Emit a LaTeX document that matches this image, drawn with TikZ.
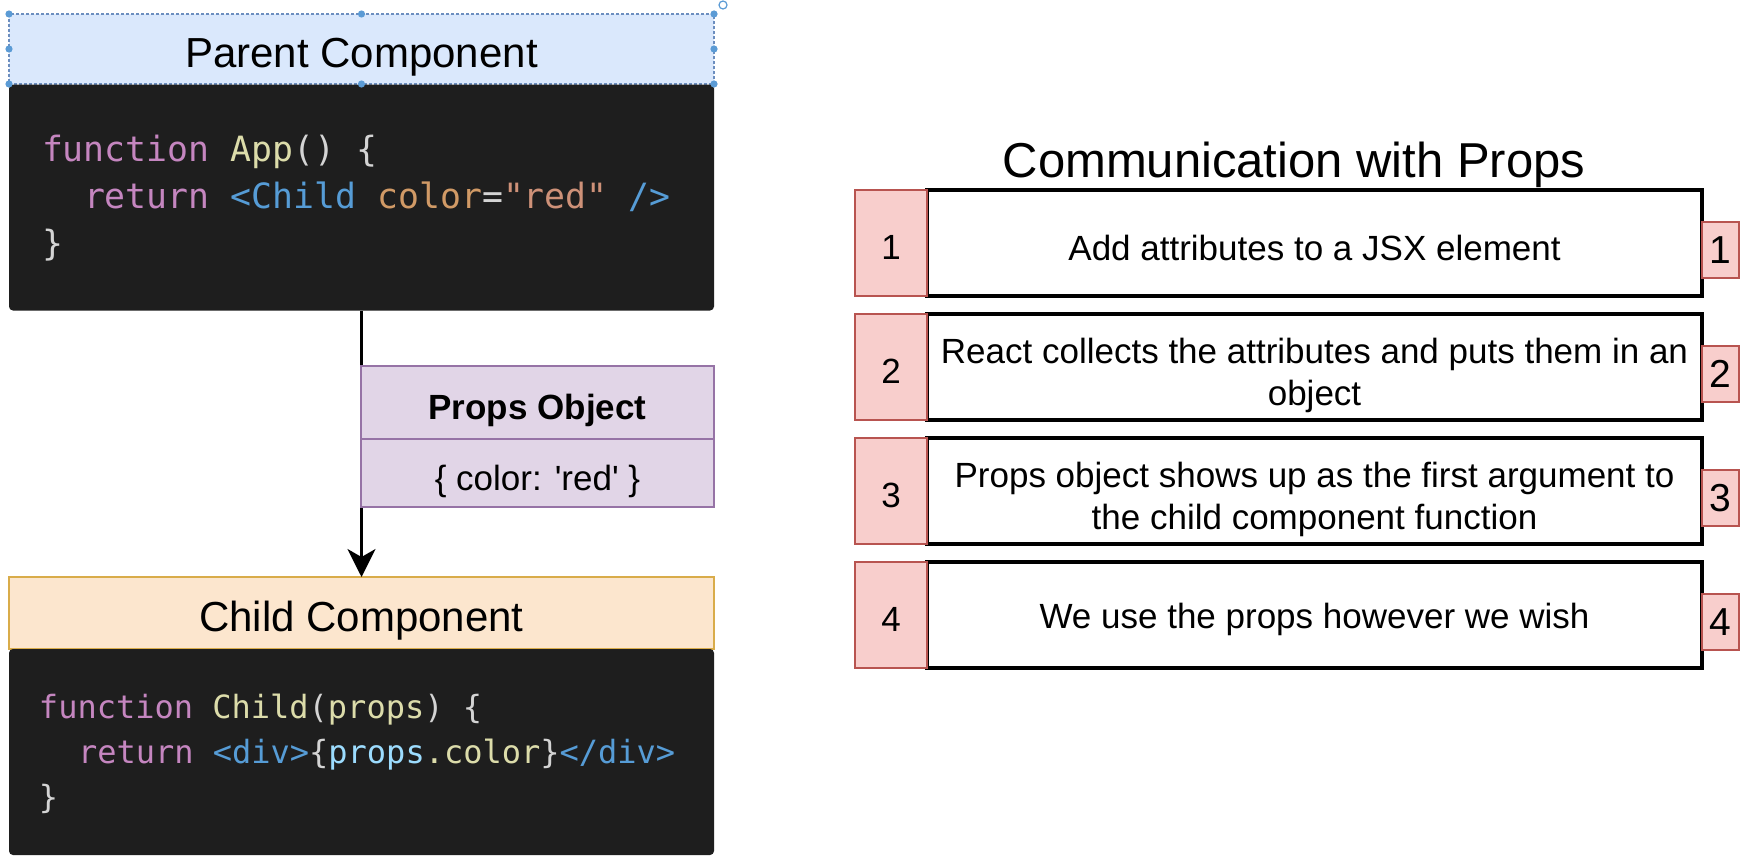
\documentclass[tikz,border=0pt]{standalone}
\usepackage{fontspec}
\setmainfont{Liberation Sans}
\setmonofont{DejaVu Sans Mono}
\usepackage{tikz}
\usetikzlibrary{arrows.meta,positioning}
\definecolor{CodeBg}{HTML}{1E1E1E}
\definecolor{KwPink}{HTML}{C586C0}
\definecolor{FnYellow}{HTML}{DCDCAA}
\definecolor{TagBlue}{HTML}{569CD6}
\definecolor{AttrTan}{HTML}{D19A66}
\definecolor{StrOrange}{HTML}{CE9178}
\definecolor{PunGray}{HTML}{D4D4D4}
\definecolor{VarBlue}{HTML}{9CDCFE}
\definecolor{ParentFill}{HTML}{DAE8FC}
\definecolor{ParentLine}{HTML}{6C8EBF}
\definecolor{HandleBlue}{HTML}{5B9BD5}
\definecolor{ChildFill}{HTML}{FCE6CE}
\definecolor{ChildLine}{HTML}{D9AC4A}
\definecolor{PropsFill}{HTML}{E1D5E7}
\definecolor{PropsLine}{HTML}{9673A6}
\definecolor{StepFill}{HTML}{F8CECC}
\definecolor{StepLine}{HTML}{B85450}
\newcommand{\cKw}[1]{\textcolor{KwPink}{#1}}
\newcommand{\cFn}[1]{\textcolor{FnYellow}{#1}}
\newcommand{\cTag}[1]{\textcolor{TagBlue}{#1}}
\newcommand{\cAttr}[1]{\textcolor{AttrTan}{#1}}
\newcommand{\cStr}[1]{\textcolor{StrOrange}{#1}}
\newcommand{\cPun}[1]{\textcolor{PunGray}{#1}}
\newcommand{\cVar}[1]{\textcolor{VarBlue}{#1}}

\begin{document}
\begin{tikzpicture}[x=0.5pt,y=-0.5pt,
    every node/.style={inner sep=0pt, outer sep=0pt},
    headbox/.style={minimum width=352.5pt, text height=18pt, text depth=0pt, font=\fontsize{21}{25}\selectfont},
    codebox/.style={fill=CodeBg, rounded corners=2pt, minimum width=352.5pt},
    codeline/.style={anchor=base west, font=\fontsize{17.4}{20}\selectfont\ttfamily},
    childline/.style={anchor=base west, font=\fontsize{16}{19}\selectfont\ttfamily},
    propsbox/.style={draw=PropsLine, fill=PropsFill, line width=1pt, minimum width=176.5pt, text height=17pt, text depth=0pt, font=\fontsize{17.5}{21}\selectfont},
    numbox/.style={draw=StepLine, fill=StepFill, line width=1pt, minimum width=36pt, minimum height=53pt, text height=16pt, text depth=0pt, font=\fontsize{17.5}{21}\selectfont},
    stepbox/.style={draw=black, fill=white, line width=1.6pt, minimum width=387.5pt, minimum height=53pt},
    steptext/.style={align=center, font=\fontsize{17.5}{21}\selectfont},
    tagbox/.style={draw=StepLine, fill=StepFill, line width=1pt, minimum width=18.5pt, minimum height=28pt, font=\fontsize{19.5}{22}\selectfont},
    arrowline/.style={-{Stealth[length=14pt, width=14pt, inset=4pt]}, line width=1.1pt}]
  \fill[white] (0,0) rectangle (1764,862);
  \useasboundingbox (0,0) rectangle (1764,862);

  \node[headbox, draw=ParentLine, fill=ParentFill, dash pattern=on 1.5pt off 1pt, line width=0.8pt, minimum height=35pt] (parentHead) at (361.5,49) {Parent Component};
  \node[codebox, minimum height=113pt] (parentCode) at (361.5,197.5) {};
  \node[codeline] (appL1) at (42,161) {\cKw{function} \cFn{App}\cPun{() \{}};
  \node[codeline] (appL2) at (84,208) {\cKw{return} \cTag{<Child} \cAttr{color}\cPun{=}\cStr{"red"} \cTag{/>}};
  \node[codeline] (appL3) at (42,255) {\cPun{\}}};
  \foreach \a in {north west,north,north east,east,south east,south,south west,west}
    \fill[HandleBlue] (parentHead.\a) circle (1.8pt);
  \draw[HandleBlue, line width=0.6pt] (723,5) circle (2pt);

  \node[headbox, draw=ChildLine, fill=ChildFill, line width=1pt, minimum height=36pt] (childHead) at (361.5,613) {Child Component};
  \node[codebox, minimum height=103pt] (childCode) at (361.5,752) {};
  \node[childline] (childL1) at (39,718) {\cKw{function} \cFn{Child}\cPun{(}\cFn{props}\cPun{) \{}};
  \node[childline] (childL2) at (78,763) {\cKw{return} \cTag{<div>}\cPun{\{}\cVar{props}\cFn{.color}\cPun{\}}\cTag{</div>}};
  \node[childline] (childL3) at (39,808) {\cPun{\}}};

  \draw[arrowline] (parentCode.south) -- (childHead.north);

  \node[propsbox, minimum height=36.5pt, font=\fontsize{17.5}{21}\selectfont\bfseries] (propsTitle) at (537.5,402.5) {Props Object};
  \node[propsbox, minimum height=34pt, below=0pt of propsTitle] (propsBody) {\{ color: \textquotesingle red\textquotesingle\ \}};

  \node[font=\fontsize{24.5}{29}\selectfont] (title) at (1294,164.5) {Communication with Props};

  \foreach \n/\y/\dy/\txt in {1/190/2.3/{Add attributes to a JSX element},
      2/314/4.2/{React collects the attributes and puts them in an\\object},
      3/438/4.2/{Props object shows up as the first argument to\\the child component function},
      4/562/2.3/{We use the props however we wish}} {
    \node[stepbox] (step\n) at (1314.5,\y+53) {};
    \node[steptext] (stepText\n) at ([yshift=-\dy pt]step\n.center) {\txt};
    \node[numbox] (num\n) at (891,\y+53) {\n};
    \node[tagbox] (tag\n) at (1720.5,\y+60) {\n};
  }
\end{tikzpicture}
\end{document}
